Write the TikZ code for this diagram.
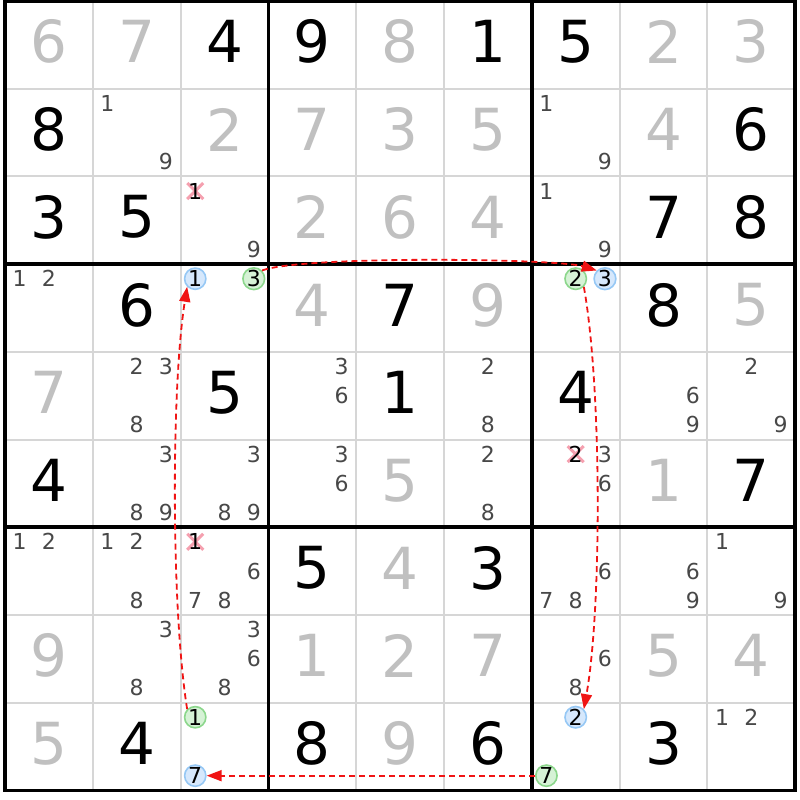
\documentclass[tikz,border=0pt]{standalone}
\usepackage{fontspec}
\setmainfont{DejaVu Sans}
\usetikzlibrary{arrows.meta}
\definecolor{solvedgray}{RGB}{192,192,192}
\definecolor{candgray}{RGB}{72,72,72}
\definecolor{thingray}{RGB}{214,214,214}
\definecolor{chainred}{RGB}{240,20,20}
\definecolor{bluefill}{RGB}{214,232,252}
\definecolor{bluedraw}{RGB}{150,200,245}
\definecolor{greenfill}{RGB}{214,242,214}
\definecolor{greendraw}{RGB}{140,215,140}
\definecolor{crosspink}{RGB}{245,160,175}
\newcommand{\bigdig}[4]{%
  \pgfmathsetmacro{\cxx}{5+(#2-0.5)*87.8}%
  \pgfmathsetmacro{\cyy}{1+(#1-0.5)*87.7-3}%
  \node[#4] (b#1#2) at (\cxx,\cyy) {#3};}
\newcommand{\cand}[4]{%
  \pgfmathsetmacro{\cxx}{5+(#2-1)*87.8+(mod(#3-1,3)+0.5)*29.27}%
  \pgfmathsetmacro{\cyy}{1+(#1-1)*87.7+(floor((#3-1)/3)+0.5)*29.23}%
  \node[#4] (k#1#2#3) at (\cxx,\cyy) {#3};}
\newcommand{\cands}[3]{\foreach \dd in {#3} {\cand{#1}{#2}{\dd}{cand}}}
\newcommand{\elimcand}[3]{%
  \pgfmathsetmacro{\cxx}{5+(#2-1)*87.8+(mod(#3-1,3)+0.5)*29.27}%
  \pgfmathsetmacro{\cyy}{1+(#1-1)*87.7+(floor((#3-1)/3)+0.5)*29.23}%
  \draw[crosspink,line width=3pt] (\cxx-8,\cyy-8) -- (\cxx+8,\cyy+8) (\cxx-8,\cyy+8) -- (\cxx+8,\cyy-8);
  \node[elim] (k#1#2#3) at (\cxx,\cyy) {#3};}
\begin{document}
\begin{tikzpicture}[x=1pt,y=-1pt,
  given/.style={font=\fontsize{58}{58}\selectfont, text=black, inner sep=0pt},
  solved/.style={given, text=solvedgray},
  cand/.style={font=\fontsize{22}{22}\selectfont, text=candgray, inner sep=0pt},
  elim/.style={cand, text=black},
  bluec/.style={cand, text=black, circle, draw=bluedraw, fill=bluefill, line width=1.6pt, minimum size=20pt, inner sep=0pt},
  greenc/.style={bluec, draw=greendraw, fill=greenfill},
  chain/.style={draw=chainred, line width=1.8pt, dash pattern=on 6pt off 4pt, -{Triangle[length=15pt,width=11pt]}}
]
\useasboundingbox (0,0) rectangle (800,800);
\fill[white] (0,0) rectangle (800,800);
% thin lines
\foreach \i in {1,2,4,5,7,8} {
  \draw[thingray, line width=2pt] ({5+\i*87.8},1) -- ({5+\i*87.8},790);
  \draw[thingray, line width=2pt] (5,{1+\i*87.7}) -- (795,{1+\i*87.7});
}
% thick lines
\foreach \i in {0,3,6,9} {
  \draw[black, line width=3.5pt] ({5+\i*87.8},-1) -- ({5+\i*87.8},792);
  \draw[black, line width=3.5pt] (3,{1+\i*87.7}) -- (797,{1+\i*87.7});
}
% givens
\foreach \r/\c/\d in {1/3/4,1/4/9,1/6/1,1/7/5,2/1/8,2/9/6,3/1/3,3/2/5,3/8/7,3/9/8,
  4/2/6,4/5/7,4/8/8,5/3/5,5/5/1,5/7/4,6/1/4,6/9/7,7/4/5,7/6/3,9/2/4,9/4/8,9/6/6,9/8/3}
  {\bigdig{\r}{\c}{\d}{given}}
% solved
\foreach \r/\c/\d in {1/1/6,1/2/7,1/5/8,1/8/2,1/9/3,2/3/2,2/4/7,2/5/3,2/6/5,2/8/4,
  3/4/2,3/5/6,3/6/4,4/4/4,4/6/9,4/9/5,5/1/7,6/5/5,6/8/1,7/5/4,8/1/9,8/4/1,8/5/2,
  8/6/7,8/8/5,8/9/4,9/1/5,9/5/9}
  {\bigdig{\r}{\c}{\d}{solved}}
% candidates
\cands{2}{2}{1,9}
\cands{2}{7}{1,9}
\cands{3}{3}{9}
\elimcand{3}{3}{1}
\cands{3}{7}{1,9}
\cands{4}{1}{1,2}
\cands{5}{2}{2,3,8}
\cands{5}{4}{3,6}
\cands{5}{6}{2,8}
\cands{5}{8}{6,9}
\cands{5}{9}{2,9}
\cands{6}{2}{3,8,9}
\cands{6}{3}{3,8,9}
\cands{6}{4}{3,6}
\cands{6}{6}{2,8}
\cands{6}{7}{3,6}
\elimcand{6}{7}{2}
\cands{7}{1}{1,2}
\cands{7}{2}{1,2,8}
\cands{7}{3}{6,7,8}
\elimcand{7}{3}{1}
\cands{7}{7}{6,7,8}
\cands{7}{8}{6,9}
\cands{7}{9}{1,9}
\cands{8}{2}{3,8}
\cands{8}{3}{3,6,8}
\cands{8}{7}{6,8}
\cands{9}{9}{1,2}
% highlighted candidates
\cand{4}{3}{1}{bluec}
\cand{4}{3}{3}{greenc}
\cand{4}{7}{2}{greenc}
\cand{4}{7}{3}{bluec}
\cand{9}{7}{2}{bluec}
\cand{9}{7}{7}{greenc}
\cand{9}{3}{1}{greenc}
\cand{9}{3}{7}{bluec}
% chain
\draw[chain] (k433.north east) .. controls +(40,-15) and +(-40,-12) .. (k473.north west);
\draw[chain] (k472.south east) .. controls +(18,100) and +(18,-100) .. (k972.north east);
\draw[chain] (k977.west) -- (k937.east);
\draw[chain] (k931.north west) .. controls +(-16,-100) and +(-16,100) .. (k431.south west);
\end{tikzpicture}
\end{document}
